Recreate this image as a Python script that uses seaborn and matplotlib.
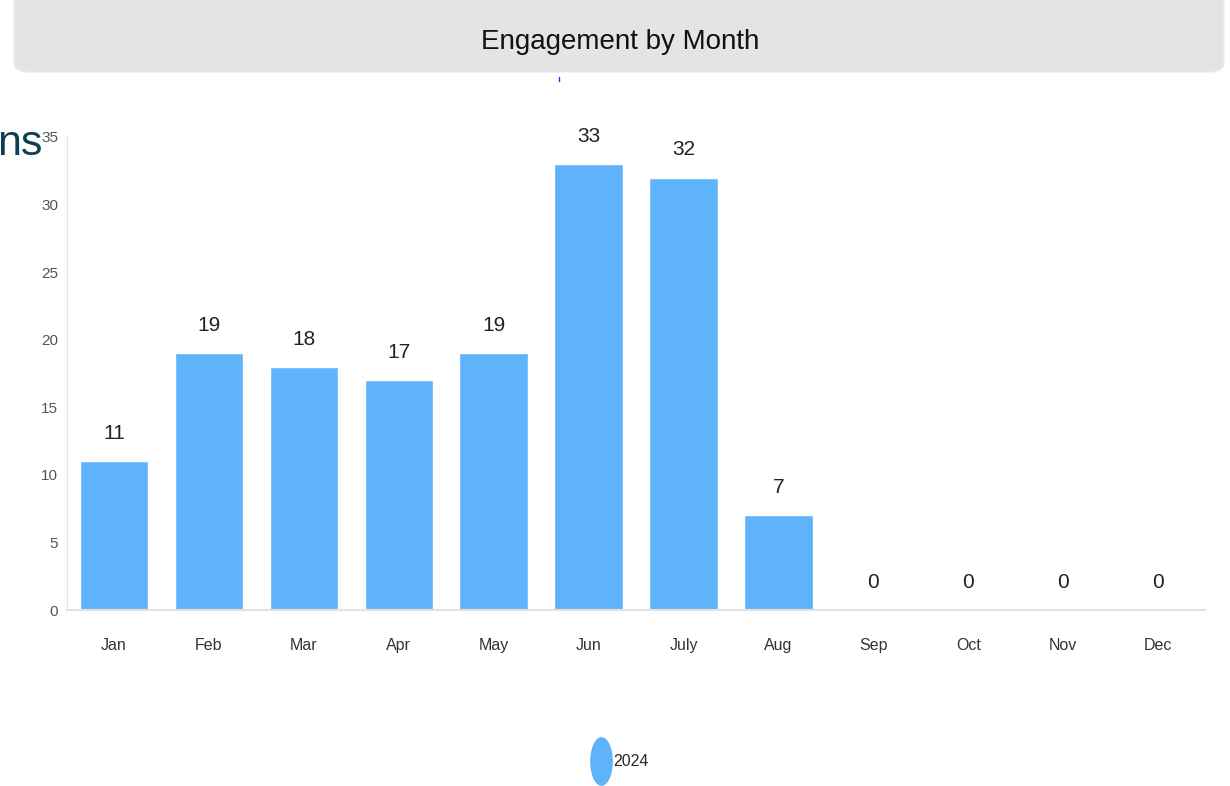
import pandas as pd
import matplotlib.pyplot as plt
import seaborn as sns
from matplotlib.patches import FancyBboxPatch
from matplotlib.path import Path
from matplotlib.transforms import Affine2D
from matplotlib.lines import Line2D

# 차트 데이터
months = ['Jan', 'Feb', 'Mar', 'Apr', 'May', 'Jun', 'July', 'Aug', 'Sep', 'Oct', 'Nov', 'Dec']
engagement = [11, 19, 18, 17, 19, 33, 32, 7, 0, 0, 0, 0]
series_name = '2024'
y_ticks = [0, 5, 10, 15, 20, 25, 30, 35]

BAR_COLOR = '#5fb3fb'
NARROW = ['Liberation Sans Narrow', 'Liberation Sans', 'DejaVu Sans']

sns.set_style('white')
plt.rcParams['font.family'] = NARROW

df = pd.DataFrame({'month': months, 'value': engagement, 'year': series_name})

fig = plt.figure(figsize=(12.3, 7.86), dpi=100)

# 제목 배경 박스 (위쪽 둥근 모서리)
title_box = FancyBboxPatch((14 / 1230, 714 / 786), 1210 / 1230, 80 / 786,
                           boxstyle='round,pad=0,rounding_size=0.012',
                           transform=fig.transFigure, facecolor='#e4e4e4',
                           edgecolor='#ececec', linewidth=1, zorder=0)
fig.add_artist(title_box)
fig.text(0.504, 0.946, 'Engagement by Month', ha='center', va='center',
         fontsize=20, color='#111111')
fig.add_artist(Line2D([559 / 1230, 559 / 1230], [705 / 786, 709 / 786],
                      color='#2a2aff', linewidth=1, transform=fig.transFigure))

# 왼쪽 잘린 텍스트
fig.text(42 / 1230, 0.803, 'ns', ha='right', va='baseline', fontsize=31,
         color='#0c3f52', family=['Liberation Sans', 'DejaVu Sans'])

ax = fig.add_axes([66.5 / 1230, 176 / 786, 1139 / 1230, 473 / 786])
sns.barplot(data=df, x='month', y='value', color=BAR_COLOR, width=0.72,
            saturation=1, ax=ax)

ax.bar_label(ax.containers[0], labels=[str(v) for v in engagement],
             padding=13, fontsize=15, color='#222222')

ax.set_ylim(0, 35)
ax.set_xlim(-0.5, len(months) - 0.5)
ax.set_yticks(y_ticks)
ax.set_xlabel('')
ax.set_ylabel('')
ax.tick_params(axis='y', length=0, pad=6, labelsize=11, labelcolor='#555555')
ax.tick_params(axis='x', length=0, pad=20, labelsize=11.5, labelcolor='#333333')

for side in ['top', 'right']:
    ax.spines[side].set_visible(False)
ax.spines['left'].set_color('#e2e2e2')
ax.spines['bottom'].set_color('#e2e2e2')
ax.spines['bottom'].set_linewidth(1.5)

# 범례: 세로로 긴 타원 모양 마커
ellipse = Path.unit_circle().transformed(Affine2D().scale(0.45, 1.0))
handle = Line2D([], [], linestyle='none', marker=ellipse, markersize=34,
                markerfacecolor=BAR_COLOR, markeredgecolor=BAR_COLOR)
fig.legend([handle], [series_name], loc='center', bbox_to_anchor=(0.504, 0.031),
           frameon=False, fontsize=11.5, handletextpad=0.2, handlelength=1.2)

fig.savefig('out.png', dpi=100)
